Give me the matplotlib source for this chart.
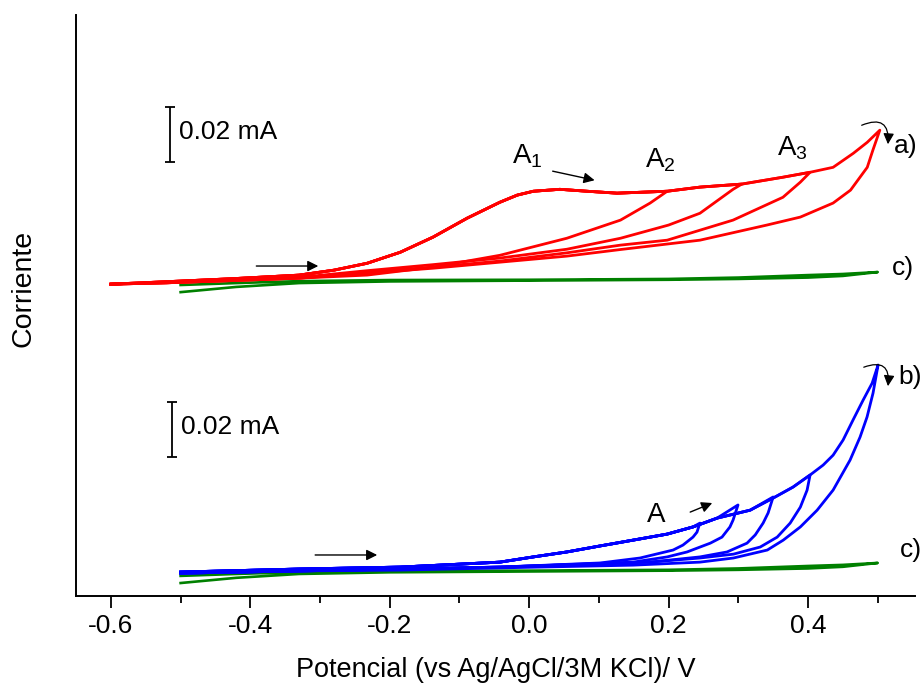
import numpy as np
import matplotlib
matplotlib.use("Agg")
import matplotlib.pyplot as plt

plt.rcParams['font.family'] = ['Liberation Sans', 'DejaVu Sans']
plt.rcParams['axes.unicode_minus'] = False
plt.rcParams['mathtext.default'] = 'regular'

# --- data (potential in V, current in uA relative to each trace) ---
# a) red: shared anodic (forward) scan, then one cathodic return per switching potential
a_fwd_v = [-0.60, -0.52, -0.425, -0.33, -0.28, -0.2325, -0.185, -0.138, -0.089, -0.042,
           -0.017, 0.006, 0.044, 0.083, 0.126, 0.198, 0.245, 0.305, 0.364, 0.403,
           0.436, 0.465, 0.485, 0.503]
a_fwd_i = [0.0, 0.9, 2.0, 3.3, 5.1, 7.6, 11.6, 17.1, 24.0, 29.8,
           32.4, 33.8, 34.5, 33.8, 33.1, 33.8, 35.3, 36.4, 38.9, 40.7,
           42.5, 47.6, 51.6, 56.0]
a_rev_v = [
    [0.198, 0.1735, 0.131, 0.054, -0.042, -0.138, -0.2325, -0.329, -0.425, -0.52, -0.60],
    [0.305, 0.2925, 0.245, 0.20, 0.131, 0.054, -0.042, -0.138, -0.2325, -0.329, -0.425, -0.52, -0.60],
    [0.403, 0.389, 0.364, 0.2925, 0.198, 0.131, 0.054, -0.042, -0.138, -0.2325, -0.329, -0.425,
     -0.52, -0.60],
    [0.503, 0.493, 0.485, 0.461, 0.436, 0.389, 0.341, 0.245, 0.131, 0.054, -0.042, -0.138,
     -0.2325, -0.329, -0.425, -0.52, -0.60],
]
a_rev_i = [
    [33.8, 29.5, 23.3, 16.7, 10.5, 6.2, 3.3, 2.2, 1.4, 0.5, 0.0],
    [36.4, 34.5, 25.8, 21.5, 16.7, 12.7, 9.5, 7.1, 4.9, 2.5, 1.5, 0.5, 0.0],
    [40.7, 37.1, 31.6, 23.3, 16.0, 14.2, 11.4, 8.4, 6.2, 4.4, 2.2, 1.3, 0.5, 0.0],
    [56.0, 48.7, 42.5, 34.2, 29.5, 24.4, 21.5, 16.0, 12.6, 10.2, 8.0, 5.8, 4.0, 2.2, 1.3,
     0.5, 0.0],
]

# b) blue
b_fwd_v = [-0.50, -0.329, -0.185, -0.042, 0.006, 0.054, 0.102, 0.149, 0.198, 0.235,
           0.2695, 0.317, 0.350, 0.3785, 0.403, 0.4217, 0.436, 0.4503, 0.4646, 0.479,
           0.492, 0.5005]
b_fwd_i = [0.0, 1.1, 1.8, 3.6, 5.5, 7.3, 9.5, 11.6, 13.8, 16.4,
           19.6, 22.5, 26.9, 30.9, 35.3, 38.9, 42.5, 48.0, 55.3, 62.5,
           68.7, 75.3]
b_rev_v = [
    [0.245, 0.2407, 0.235, 0.2206, 0.2065, 0.159, 0.102, -0.042, -0.185, -0.329, -0.50],
    [0.2996, 0.2925, 0.288, 0.2766, 0.2598, 0.2265, 0.198, 0.149, -0.042, -0.185, -0.329, -0.50],
    [0.350, 0.3428, 0.3356, 0.3243, 0.3125, 0.2838, 0.245, 0.1734, -0.042, -0.185, -0.329, -0.50],
    [0.403, 0.3987, 0.389, 0.3744, 0.3558, 0.3315, 0.293, 0.245, 0.1734, -0.042, -0.185, -0.329,
     -0.50],
    [0.5005, 0.4933, 0.4847, 0.4747, 0.4603, 0.436, 0.4131, 0.389, 0.3645, 0.3416, 0.293,
     0.245, 0.149, -0.042, -0.185, -0.329, -0.50],
]
b_rev_i = [
    [17.8, 14.5, 12.7, 9.8, 8.0, 5.1, 3.3, 1.8, 1.1, 0.4, -0.4],
    [24.4, 18.9, 16.4, 12.7, 10.5, 7.3, 5.5, 3.6, 1.8, 1.1, 0.4, -0.4],
    [27.3, 21.5, 17.8, 13.5, 10.5, 7.3, 5.5, 3.6, 1.8, 1.1, 0.4, -0.4],
    [35.3, 29.8, 23.6, 17.8, 12.7, 9.1, 6.5, 5.1, 3.6, 1.8, 1.1, 0.4, -0.4],
    [75.3, 65.1, 56.4, 49.1, 40.7, 29.8, 22.5, 16.4, 11.6, 8.0, 5.1, 3.6, 2.5, 1.5, 0.7,
     0.4, -0.4],
]

# c) green blank (same trace shown under a) and b))
c_v = [-0.50, -0.42, -0.33, -0.20, 0.0, 0.20, 0.30, 0.40, 0.45, 0.50,
       0.45, 0.40, 0.30, 0.20, 0.0, -0.20, -0.33, -0.42, -0.50]
c_i = [-1.8, -1.1, -0.4, 0.0, 0.1, 0.4, 0.9, 1.8, 2.2, 2.9,
       1.5, 0.9, 0.4, 0.1, -0.2, -0.5, -1.1, -2.5, -4.4]

# vertical stacking of the traces (plot units = uA)
off_a, off_b = 113.6, 8.9
off_c_top, off_c_bot = 115.1, 9.3


def cycle(fwd_v, fwd_i, rev_v, rev_i):
    fv = np.array(fwd_v)
    fi = np.array(fwd_i)
    keep = fv < rev_v[0] - 0.004
    return np.r_[fv[keep], rev_v], np.r_[fi[keep], rev_i]


fig = plt.figure(figsize=(9.21, 6.85), dpi=100)
ax = fig.add_axes([0.0822, 0.1292, 0.9113, 0.8489])

# blanks first
for off in (off_c_top, off_c_bot):
    ax.plot(c_v, np.array(c_i) + off, color='#008000', lw=1.9, solid_joinstyle='round')

for rv, ri in zip(a_rev_v, a_rev_i):
    v, i = cycle(a_fwd_v, a_fwd_i, rv, ri)
    ax.plot(v, i + off_a, color='red', lw=2.0, solid_joinstyle='round')

for rv, ri in zip(b_rev_v, b_rev_i):
    v, i = cycle(b_fwd_v, b_fwd_i, rv, ri)
    ax.plot(v, i + off_b, color='blue', lw=2.0, solid_joinstyle='round')

ax.set_xlim(-0.6505, 0.5535)
ax.set_ylim(0, 211.5)

# scale bars (20 uA = 0.02 mA)
for xb, yb in ((-0.515, 158.0), (-0.512, 50.7)):
    ax.errorbar([xb], [yb + 10], yerr=10, color='k', lw=1.3, capsize=3.5, capthick=1.3)
ax.text(-0.503, 169.0, '0.02 mA', fontsize=19, va='center', ha='left')
ax.text(-0.499, 61.7, '0.02 mA', fontsize=19, va='center', ha='left')

# peak labels
ax.text(-0.0245, 157.6, '$A_1$', fontsize=20, va='baseline', ha='left')
ax.text(0.166, 156.2, '$A_2$', fontsize=20, va='baseline', ha='left')
ax.text(0.3556, 160.5, '$A_3$', fontsize=20, va='baseline', ha='left')
ax.text(0.169, 27.1, 'A', fontsize=20, va='baseline', ha='left')

# curve labels
ax.text(0.5233, 161.3, 'a)', fontsize=19, va='baseline', ha='left', clip_on=False)
ax.text(0.529, 77.3, 'b)', fontsize=19, va='baseline', ha='left', clip_on=False)
ax.text(0.5206, 116.9, 'c)', fontsize=19, va='baseline', ha='left', clip_on=False)
ax.text(0.532, 14.4, 'c)', fontsize=19, va='baseline', ha='left', clip_on=False)

# straight scan-direction arrows
arr = dict(arrowstyle='-|>', color='k', lw=1.0, mutation_scale=16, shrinkA=0, shrinkB=0)
ax.annotate('', xy=(-0.3025, 120.2), xytext=(-0.3914, 120.2), arrowprops=arr)
ax.annotate('', xy=(-0.218, 15.1), xytext=(-0.307, 15.1), arrowprops=arr)
ax.annotate('', xy=(0.0939, 151.4), xytext=(0.0337, 154.7), arrowprops=arr)
ax.annotate('', xy=(0.2626, 34.0), xytext=(0.231, 30.7), arrowprops=arr)

# curved arrows at the switching potential
carr = dict(arrowstyle='-|>', color='k', lw=0.9, mutation_scale=16, shrinkA=0, shrinkB=0,
            connectionstyle='arc3,rad=-0.8')
ax.annotate('', xy=(0.5147, 164.5), xytext=(0.477, 171.4), arrowprops=carr)
ax.annotate('', xy=(0.5147, 76.5), xytext=(0.480, 83.4), arrowprops=carr)

# axes styling
for s in ('top', 'right'):
    ax.spines[s].set_visible(False)
for s in ('left', 'bottom'):
    ax.spines[s].set_linewidth(1.4)
ax.set_yticks([])
ax.set_xticks([-0.6, -0.4, -0.2, 0.0, 0.2, 0.4])
ax.set_xticks(np.arange(-0.5, 0.55, 0.2), minor=True)
ax.tick_params(axis='x', which='major', direction='out', length=8.6, width=1.3,
               labelsize=19, pad=4)
ax.tick_params(axis='x', which='minor', direction='out', length=5, width=1.3)
ax.set_xlabel('Potencial (vs Ag/AgCl/3M KCl)/ V', fontsize=19.5, labelpad=14)
fig.text(23 / 921, 1 - 288 / 685, 'Corriente', rotation=90, fontsize=20.5,
         ha='center', va='center')

fig.savefig('out.png', dpi=100)
